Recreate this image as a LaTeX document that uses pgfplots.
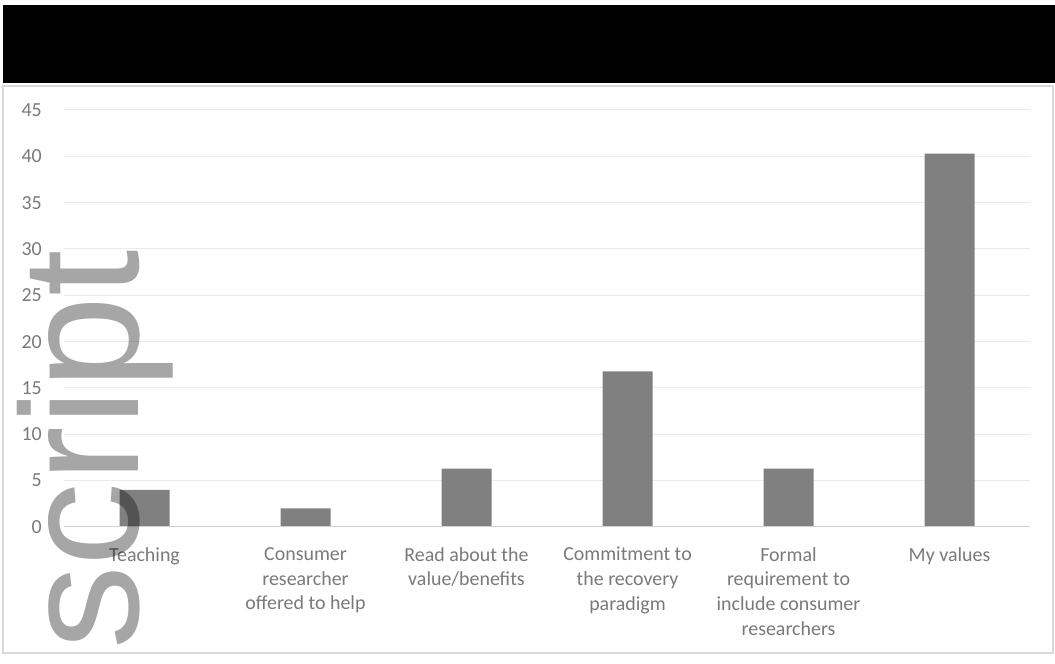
\documentclass[border=0pt]{standalone}
\usepackage{pgfplots}
\pgfplotsset{compat=1.18}
\usepackage{fontspec}
\setmainfont{Carlito}
\newfontfamily\wmfont{Liberation Sans}
\definecolor{barc}{HTML}{808080}
\definecolor{lbl}{HTML}{7A7A7A}
\definecolor{gridc}{HTML}{EAEAEA}
\definecolor{axc}{HTML}{D0D0D0}
\begin{document}
\begin{tikzpicture}
\useasboundingbox (0,0) rectangle (1055bp,664bp);
\fill[white] (0,0) rectangle (1055bp,664bp);
\draw[black!15, line width=1.5bp] (3bp,11bp) rectangle (1053bp,578bp);
\fill[black] (3bp,581bp) rectangle (1055bp,659bp);
\begin{axis}[
  at={(64bp,137bp)}, anchor=south west,
  scale only axis, width=966bp, height=417bp,
  xmin=-0.5, xmax=5.5, ymin=0, ymax=45,
  ytick={0,5,...,45}, xtick={0,1,2,3,4,5},
  xticklabels={Teaching,Consumer\\researcher\\offered to help,Read about the\\value/benefits,Commitment to\\the recovery\\paradigm,Formal\\requirement to\\include consumer\\researchers,My values},
  ymajorgrids, grid style={gridc, line width=1bp},
  axis line style={draw=none}, major tick length=0pt,
  /pgf/number format/assume math mode=true,
  yticklabel style={font=\fontsize{20}{24}\selectfont, text=lbl, anchor=east, inner sep=0pt, xshift=-22bp},
  xticklabel style={font=\fontsize{20}{25}\selectfont, text=lbl, anchor=north, align=center, inner sep=0pt, yshift=-20bp},
  clip=false,
]
\addplot[ybar, bar width=50bp, fill=barc, draw=none] coordinates {(0,4) (1,2) (2,6.3) (3,16.8) (4,6.3) (5,40.3)};
\draw[axc, line width=1bp] (axis cs:-0.5,0) -- (axis cs:5.5,0);
\end{axis}
\node[rotate=90, anchor=base west, inner sep=0pt, text=black, text opacity=0.35, font=\wmfont\fontsize{168}{168}\selectfont] at (138bp,14bp) {script};
\end{tikzpicture}
\end{document}
